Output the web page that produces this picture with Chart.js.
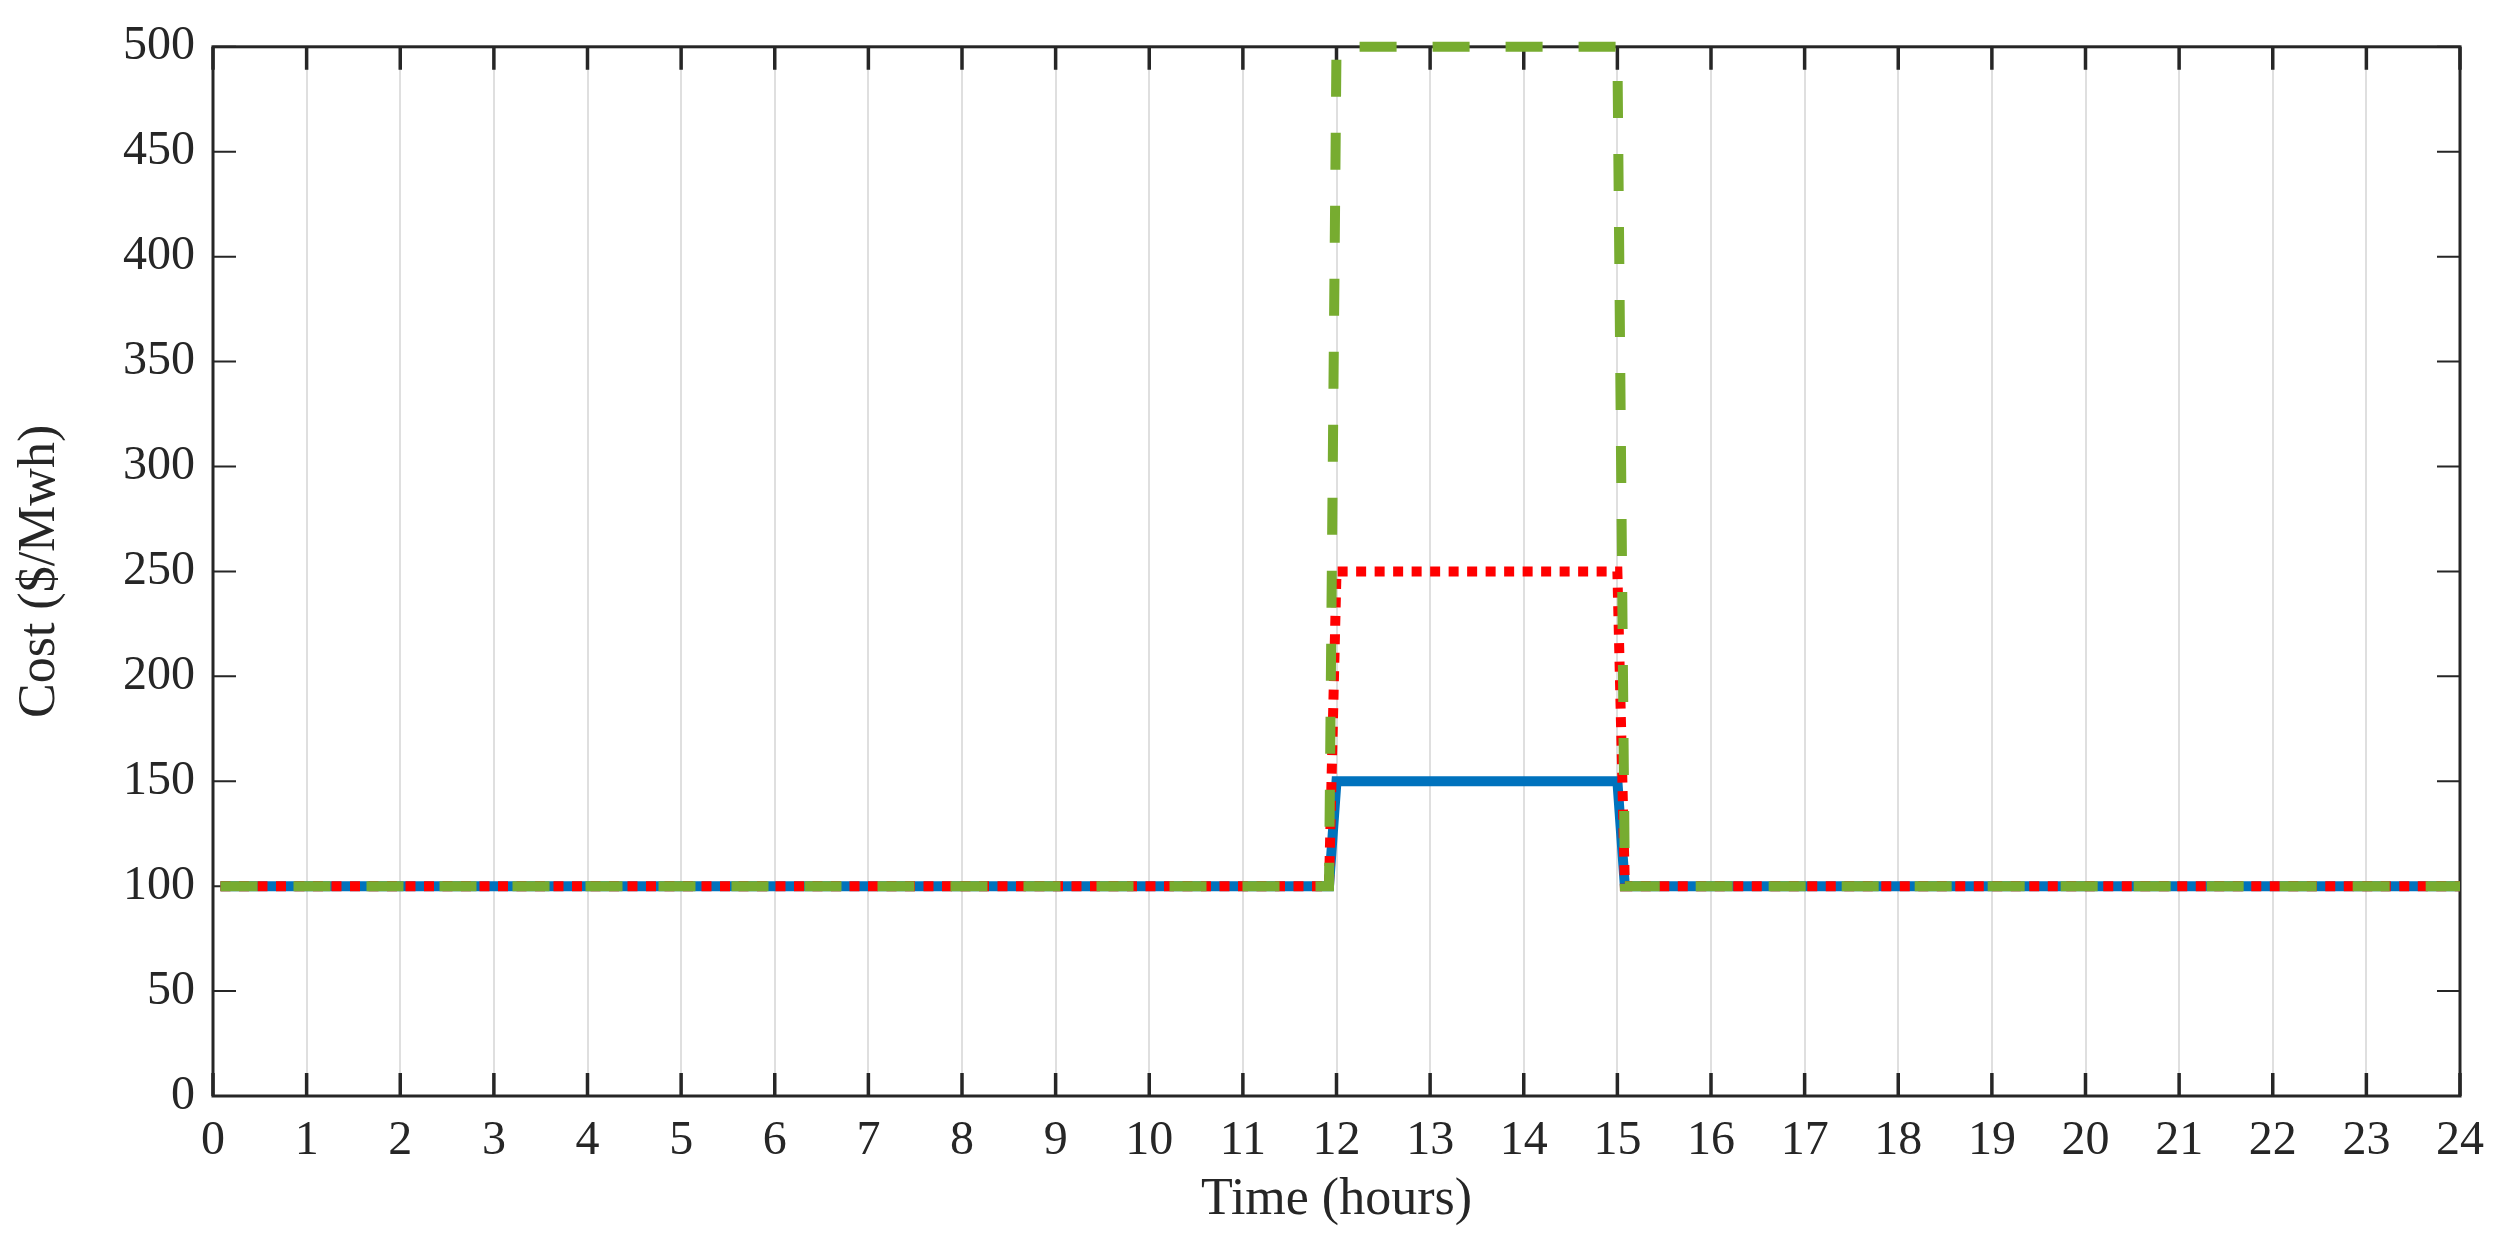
<!DOCTYPE html>
<html>
<head>
<meta charset="utf-8">
<script src="https://cdn.jsdelivr.net/npm/chart.js@4.4.1/dist/chart.umd.min.js"></script>
<style>
  html, body { margin: 0; padding: 0; background: #fff; }
  canvas { display: block; }
</style>
</head>
<body>
<canvas id="chart" width="2501" height="1244"></canvas>
<script>
// Data (hours, $/MWh)
const hours = [0.08, 11.92, 12, 15, 15.08, 24];
const costLow = [100, 100, 150, 150, 100, 100];
const costMid = [100, 100, 250, 250, 100, 100];
const costHigh = [100, 100, 500, 500, 100, 100];
const xTicks = [0, 1, 2, 3, 4, 5, 6, 7, 8, 9, 10, 11, 12, 13, 14, 15, 16, 17, 18, 19, 20, 21, 22, 23, 24];
const yTicks = [0, 50, 100, 150, 200, 250, 300, 350, 400, 450, 500];

const ink = '#262626';
const serif = 'Liberation Serif, Times New Roman, serif';

const toPoints = (vals) => vals.map((v, i) => ({ x: hours[i], y: v }));

// Box + inward ticks, MATLAB style
const frame = {
  id: 'frame',
  beforeDatasetsDraw(chart) {
    const { ctx, chartArea: a, scales: { x, y } } = chart;
    ctx.save();
    ctx.strokeStyle = ink;
    ctx.lineWidth = 3;
    ctx.strokeRect(a.left, a.top, a.right - a.left, a.bottom - a.top);
    ctx.lineWidth = 3.5;
    xTicks.forEach(t => {
      const px = x.getPixelForValue(t);
      ctx.beginPath();
      ctx.moveTo(px, a.bottom); ctx.lineTo(px, a.bottom - 23);
      ctx.moveTo(px, a.top); ctx.lineTo(px, a.top + 23);
      ctx.stroke();
    });
    ctx.lineWidth = 2;
    yTicks.forEach(t => {
      const py = y.getPixelForValue(t);
      ctx.beginPath();
      ctx.moveTo(a.left, py); ctx.lineTo(a.left + 23, py);
      ctx.moveTo(a.right, py); ctx.lineTo(a.right - 23, py);
      ctx.stroke();
    });
    ctx.restore();
  }
};

const ctx = document.getElementById('chart').getContext('2d');
const chart = new Chart(ctx, {
  type: 'line',
  data: {
    datasets: [
      {
        data: toPoints(costHigh),
        borderColor: '#77ac30',
        borderWidth: 10,
        borderDash: [37, 36],
        pointRadius: 0,
        tension: 0,
        clip: false
      },
      {
        data: toPoints(costMid),
        borderColor: '#ff0000',
        borderWidth: 10,
        borderDash: [10, 8.5],
        pointRadius: 0,
        tension: 0,
        clip: false
      },
      {
        data: toPoints(costLow),
        borderColor: '#0072bd',
        borderWidth: 10,
        pointRadius: 0,
        tension: 0,
        clip: false
      }
    ]
  },
  options: {
    responsive: false,
    animation: false,
    devicePixelRatio: 1,
    layout: { padding: { top: 40, right: 36, left: 0, bottom: 0 } },
    plugins: { legend: { display: false }, tooltip: { enabled: false } },
    scales: {
      x: {
        type: 'linear',
        min: 0,
        max: 24,
        afterFit: (s) => { s.height = 148; },
        afterBuildTicks: (s) => { s.ticks = xTicks.map(v => ({ value: v })); },
        ticks: { color: ink, font: { family: serif, size: 48 }, padding: 17, maxRotation: 0, autoSkip: false },
        grid: { color: '#dfdfdf', lineWidth: 2, drawTicks: false },
        border: { display: false },
        title: { display: true, text: 'Time (hours)', color: ink, font: { family: serif, size: 52 }, padding: { top: 0, bottom: 12 } }
      },
      y: {
        min: 0,
        max: 500,
        afterFit: (s) => { s.width = 213; },
        afterBuildTicks: (s) => { s.ticks = yTicks.map(v => ({ value: v })); },
        ticks: { color: ink, font: { family: serif, size: 48 }, padding: 18 },
        grid: { display: false, drawTicks: false },
        border: { display: false },
        title: { display: true, text: 'Cost ($/Mwh)', color: ink, font: { family: serif, size: 52 }, padding: { top: 9, bottom: 9 } }
      }
    }
  },
  plugins: [frame]
});
</script>
</body>
</html>
